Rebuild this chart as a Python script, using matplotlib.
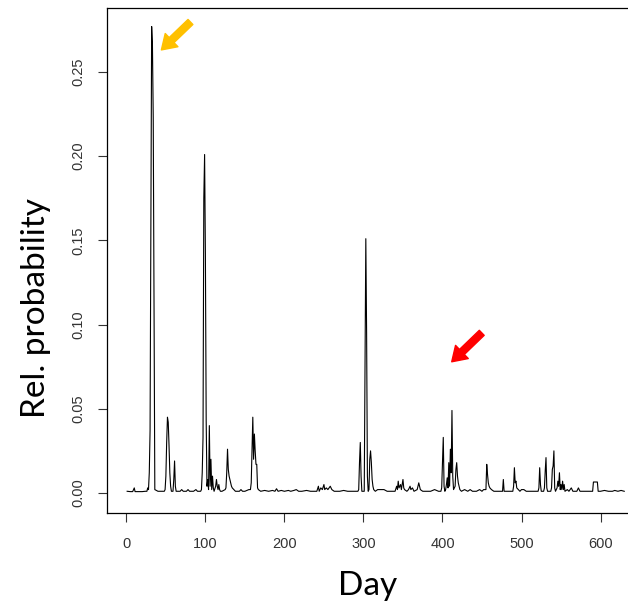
import matplotlib
matplotlib.use('Agg')
import matplotlib.pyplot as plt

# relative probability per day (baseline ~0.001)
days = [1, 5, 8, 10, 11, 20, 24, 26, 27, 28, 29, 30, 32, 33, 34, 35, 36, 40, 45,
        48, 49, 50, 51, 52, 53, 54, 55, 56, 57, 59, 60, 61, 62, 63, 68, 70, 72,
        76, 78, 80, 85, 88, 90, 94, 95, 96, 97, 98, 99, 100, 101, 102, 103, 104,
        105, 106, 107, 108, 109, 110, 111, 113, 114, 115, 116, 117, 118, 119,
        121, 125, 126, 127, 128, 129, 130, 131, 132, 133, 134, 136, 138, 143,
        145, 147, 150, 155, 157, 158, 159, 160, 161, 162, 163, 164, 165, 166,
        167, 170, 175, 180, 185, 188, 190, 192, 196, 200, 205, 208, 212, 215,
        218, 222, 228, 233, 238, 241, 243, 244, 246, 248, 250, 251, 253, 255,
        258, 260, 263, 270, 275, 280, 285, 290, 293, 294, 295, 296, 297, 298,
        301, 302, 303, 304, 305, 306, 307, 308, 309, 310, 311, 312, 313, 315,
        318, 322, 326, 330, 335, 340, 342, 343, 344, 345, 347, 348, 350, 351,
        352, 355, 357, 359, 360, 362, 364, 368, 370, 372, 375, 380, 385, 390,
        395, 398, 399, 400, 401, 402, 403, 404, 405, 406, 407, 408, 409, 410,
        411, 412, 413, 414, 416, 417, 418, 419, 420, 421, 422, 424, 428, 432,
        435, 438, 443, 447, 450, 452, 455, 456, 457, 458, 459, 460, 462, 465,
        470, 474, 476, 477, 478, 482, 486, 489, 490, 491, 492, 493, 494, 496,
        498, 500, 503, 506, 510, 515, 518, 521, 522, 523, 524, 525, 528, 529,
        530, 531, 532, 533, 537, 538, 539, 540, 541, 542, 543, 545, 546, 547,
        548, 549, 550, 551, 552, 553, 554, 555, 558, 560, 563, 565, 570, 572,
        574, 578, 585, 590, 591, 596, 597, 600, 605, 610, 615, 618, 622, 626,
        630]
prob = [0.001, 0.0008, 0.0008, 0.003, 0.0008, 0.0008, 0.001, 0.001, 0.003,
        0.002, 0.012, 0.037, 0.277, 0.266, 0.223, 0.113, 0.002, 0.001, 0.001,
        0.001, 0.002, 0.010, 0.030, 0.045, 0.042, 0.028, 0.012, 0.004, 0.001,
        0.001, 0.008, 0.019, 0.004, 0.001, 0.001, 0.002, 0.001,
        0.001, 0.002, 0.001, 0.001, 0.002, 0.001, 0.001, 0.002, 0.012, 0.033,
        0.175, 0.201, 0.142, 0.043, 0.004, 0.008, 0.002,
        0.040, 0.004, 0.020, 0.002, 0.010, 0.003, 0.001, 0.004, 0.008, 0.004,
        0.002, 0.005, 0.002, 0.001,
        0.001, 0.002, 0.003, 0.012, 0.026, 0.014, 0.010, 0.008, 0.006, 0.004,
        0.003, 0.002, 0.001, 0.001,
        0.002, 0.001, 0.001, 0.002, 0.002, 0.006, 0.025, 0.045, 0.020, 0.035,
        0.025, 0.017, 0.017, 0.003,
        0.002, 0.001, 0.0015, 0.001, 0.0015, 0.001, 0.0025, 0.001, 0.0015,
        0.001, 0.0015, 0.001, 0.0015, 0.002,
        0.001, 0.001, 0.0015, 0.001, 0.001, 0.001, 0.004, 0.001, 0.003, 0.002,
        0.005, 0.002, 0.003, 0.002,
        0.004, 0.002, 0.001, 0.001, 0.0015, 0.001, 0.001, 0.001, 0.001, 0.002,
        0.018, 0.030, 0.010, 0.001,
        0.001, 0.075, 0.151, 0.095, 0.010, 0.001, 0.002, 0.020, 0.025, 0.018,
        0.008, 0.004, 0.002, 0.001,
        0.002, 0.002, 0.002, 0.001, 0.001, 0.001, 0.004, 0.002, 0.007, 0.003,
        0.005, 0.002, 0.008, 0.003,
        0.002, 0.001, 0.002, 0.004, 0.002, 0.003, 0.001, 0.002, 0.006, 0.002,
        0.001, 0.001, 0.001, 0.002,
        0.001, 0.001, 0.003, 0.019, 0.033, 0.004, 0.001, 0.002, 0.005, 0.009,
        0.003, 0.018, 0.004, 0.026,
        0.012, 0.049, 0.010, 0.002, 0.004, 0.014, 0.018, 0.010, 0.006, 0.004,
        0.002, 0.001, 0.002, 0.001,
        0.002, 0.001, 0.001, 0.002, 0.001, 0.002, 0.002, 0.017, 0.011, 0.006,
        0.004, 0.003, 0.002, 0.001,
        0.001, 0.001, 0.001, 0.008, 0.001, 0.001, 0.001, 0.001, 0.004, 0.015,
        0.006, 0.007, 0.003, 0.002,
        0.001, 0.002, 0.002, 0.001, 0.001, 0.001, 0.001, 0.001, 0.003, 0.015,
        0.005, 0.001, 0.001, 0.003,
        0.013, 0.021, 0.003, 0.001, 0.001, 0.003, 0.014, 0.016, 0.025, 0.003,
        0.001, 0.003, 0.007, 0.004,
        0.012, 0.002, 0.005, 0.002, 0.007, 0.002, 0.005, 0.001, 0.002, 0.001,
        0.003, 0.001, 0.001, 0.003,
        0.001, 0.001, 0.001, 0.001, 0.0065, 0.0065, 0.001, 0.001, 0.0015,
        0.001, 0.001, 0.0015, 0.001, 0.0015,
        0.001]

x_ticks = [0, 100, 200, 300, 400, 500, 600]
y_ticks = [0.00, 0.05, 0.10, 0.15, 0.20, 0.25]
y_labels = ['0.00', '0.05', '0.10', '0.15', '0.20', '0.25']

W, H = 628, 603
fig = plt.figure(figsize=(W / 100, H / 100), dpi=100)
ax = fig.add_axes([107/W, 90/H, 537/W, 505/H])

ax.plot(days, prob, color='black', lw=0.8)

ax.set_xlim(-24.5, 655)
ax.set_ylim(-0.0119, 0.288)

ax.set_xticks(x_ticks)
ax.set_xticklabels([str(t) for t in x_ticks], fontsize=10.5,
                   family='Liberation Sans', color='#333333')
ax.set_yticks(y_ticks)
ax.set_yticklabels(y_labels, fontsize=10.5, family='Liberation Sans',
                   color='#333333', rotation=90, va='center')
ax.tick_params(direction='out', length=6.5, width=0.8, color='#333333')
ax.tick_params(axis='x', pad=11)
ax.tick_params(axis='y', pad=9)
for s in ax.spines.values():
    s.set_linewidth(0.9)

# axis titles (placed like in the original figure)
fig.text(368/W, 1 - 586/H, 'Day', fontsize=24, family='Lato',
         ha='center', va='center')
fig.text(36/W, 1 - 308/H, 'Rel. probability', fontsize=24, family='Lato',
         ha='center', va='center', rotation=90)

# arrows pointing at the two peaks
ax.annotate('', xy=(44.3, 0.2631), xytext=(81.1, 0.2797),
            arrowprops=dict(arrowstyle='simple,head_length=0.85,head_width=1.1,tail_width=0.42',
                            color='#FFC000', mutation_scale=12, shrinkA=0, shrinkB=0))
ax.annotate('', xy=(411.7, 0.0779), xytext=(449.7, 0.0951),
            arrowprops=dict(arrowstyle='simple,head_length=0.85,head_width=1.1,tail_width=0.42',
                            color='#FF0000', mutation_scale=12, shrinkA=0, shrinkB=0))

fig.savefig('out.png', dpi=100)
